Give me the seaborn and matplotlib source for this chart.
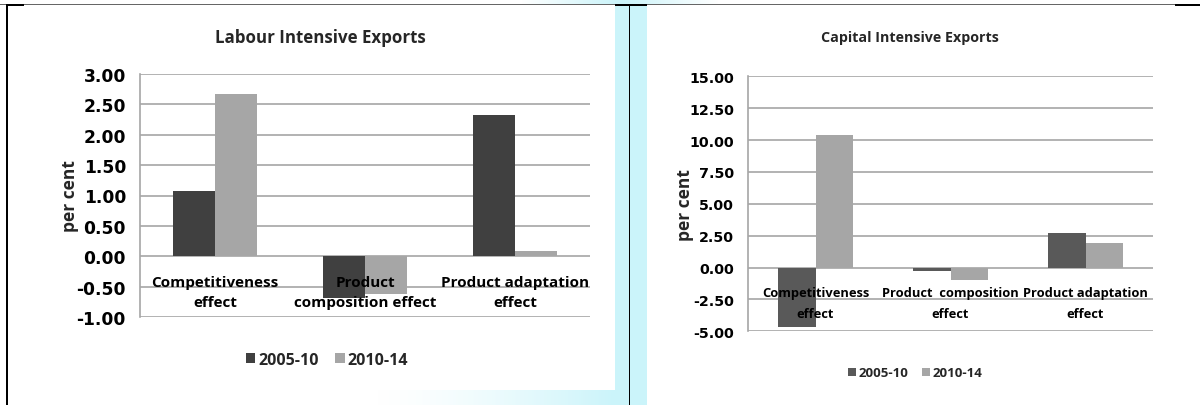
import numpy as np
import pandas as pd
import matplotlib
matplotlib.use("Agg")
import matplotlib.pyplot as plt
from matplotlib.patches import Rectangle
from matplotlib.ticker import FormatStrFormatter, MultipleLocator
import seaborn as sns

# ---- data -------------------------------------------------------------
periods = ["2005-10", "2010-14"]

labour_effects = ["Competitiveness\neffect", "Product\ncomposition effect",
                  "Product adaptation\neffect"]
labour_2005_10 = [1.07, -0.68, 2.33]
labour_2010_14 = [2.67, -0.62, 0.09]

capital_effects = ["Competitiveness\neffect", "Product  composition\neffect",
                   "Product adaptation\neffect"]
capital_2005_10 = [-4.70, -0.25, 2.72]
capital_2010_14 = [10.38, -1.00, 1.96]

labour_title = "Labour Intensive Exports"
capital_title = "Capital Intensive Exports"
y_label = "per cent"


def long_frame(effects, first, second):
    return pd.DataFrame({
        "effect": effects * 2,
        "period": [periods[0]] * len(effects) + [periods[1]] * len(effects),
        "value": list(first) + list(second),
    })


# ---- style ------------------------------------------------------------
sns.set_style("white")
plt.rcParams["font.family"] = ["Open Sans", "DejaVu Sans"]
plt.rcParams["axes.unicode_minus"] = False

W, H = 1200, 406
fig = plt.figure(figsize=(W / 100, H / 100), dpi=100, facecolor="white")

# ---- page background: table borders and cyan page decoration -------------
bg = fig.add_axes([0, 0, 1, 1], zorder=-10)
bg.set_axis_off()
cyan = "#CBF4FA"
bg.add_patch(Rectangle((615, 5), 32, 401, color=cyan, lw=0))
cmap = matplotlib.colors.LinearSegmentedColormap.from_list("fade", ["white", cyan])
grad = np.linspace(0, 1, 64)[None, :] ** 1.5
bg.imshow(grad, extent=(370, 616, 406, 391), aspect="auto", cmap=cmap,
          interpolation="bilinear")
top_grad = np.concatenate([np.linspace(0, 1, 32), np.linspace(1, 0, 32)])[None, :]
bg.imshow(top_grad, extent=(520, 720, 5, 0), aspect="auto", cmap=cmap,
          interpolation="bilinear")
bg.set_xlim(0, W)
bg.set_ylim(H, 0)


def rule(x, y, w, h, color="black"):
    """Solid table rule given in pixels from the top-left corner."""
    fig.patches.append(Rectangle((x / W, 1 - (y + h) / H), w / W, h / H,
                                 transform=fig.transFigure, color=color,
                                 lw=0, zorder=21))


rule(0, 5, W, 1, "#666666")
for x0, x1 in [(6, 24), (615, 647), (1175, 1200)]:
    rule(x0, 4.5, x1 - x0, 2)
rule(6, 5, 2, H - 5)
rule(629, 5, 1, H - 5)


def panel(rect, effects, first, second, colors, title, ylim, step,
          title_pos, fs_tick, fs_cat, cat_pad, cat_spacing, fs_title,
          fs_leg, leg_center, label_x):
    ax = fig.add_axes(rect)
    ax.set_facecolor("none")
    df = long_frame(effects, first, second)
    sns.barplot(data=df, x="effect", y="value", hue="period", order=effects,
                hue_order=periods, palette=colors, width=0.56, errorbar=None,
                linewidth=0, saturation=1, ax=ax)
    handles, labels = ax.get_legend_handles_labels()
    ax.get_legend().remove()

    ax.set_ylim(*ylim)
    ax.set_xlim(-0.5, len(effects) - 0.5)
    ax.yaxis.set_major_locator(MultipleLocator(step))
    ax.yaxis.set_major_formatter(FormatStrFormatter("%.2f"))
    ax.yaxis.grid(True, color="#A6A6A6", lw=1.2)
    # gridlines stay behind the bars, category labels are written over them
    ax.set_axisbelow(True)
    ax.xaxis.set_zorder(3)

    for side in ("top", "right"):
        ax.spines[side].set_visible(False)
    ax.spines["left"].set_color("#A6A6A6")
    ax.spines["left"].set_linewidth(1.2)
    ax.spines["bottom"].set_position(("data", 0))
    ax.spines["bottom"].set_visible(False)

    ax.tick_params(axis="y", length=3.6, width=1.2, color="#A6A6A6",
                   pad=6.5, labelsize=fs_tick, labelcolor="black",
                   labelfontfamily="DejaVu Sans")
    ax.tick_params(axis="x", length=0, pad=cat_pad, labelsize=fs_cat,
                   labelcolor="black")
    plt.setp(ax.get_yticklabels(), fontweight="bold")
    for t in ax.get_xticklabels():
        t.set_fontweight("bold")
        t.set_linespacing(cat_spacing)

    ax.set_xlabel("")
    ax.set_ylabel(y_label, fontsize=12.5, va="center", fontweight="bold")
    ax.yaxis.set_label_coords(label_x, 0.5)
    ax.set_title(title, x=title_pos[0], y=title_pos[1], pad=0, va="center",
                 fontsize=fs_title, fontweight="bold")

    fig.legend(handles, labels, loc="center",
               bbox_to_anchor=(leg_center[0] / W, 1 - leg_center[1] / H),
               ncol=2, frameon=False, handlelength=0.6, handleheight=0.6,
               handletextpad=0.2, columnspacing=1.0,
               prop={"size": fs_leg, "weight": "bold"})
    return ax


# left panel: plot area from x=140..590, y=75..318 (pixels)
panel([140 / W, 1 - 318 / H, 450 / W, 243 / H],
      labour_effects, labour_2005_10, labour_2010_14,
      ["#404040", "#A6A6A6"], labour_title, (-1.0, 3.0), 0.5,
      (0.4, 1 + 37 / 243), 12.3, 11.0, 13.5, 1.55, 12.2, 11.5, (327, 361),
      -70 / 450)

# right panel: plot area from x=748..1153, y=77..332 (pixels)
panel([748 / W, 1 - 332.3 / H, 405 / W, 255 / H],
      capital_effects, capital_2005_10, capital_2010_14,
      ["#595959", "#A6A6A6"], capital_title, (-5.0, 15.0), 2.5,
      (0.4, 1 + 39 / 255), 10.3, 9.3, 13.5, 1.75, 10.3, 9.5, (915, 374),
      -63 / 405)

fig.savefig("out.png", dpi=100, facecolor="white")
